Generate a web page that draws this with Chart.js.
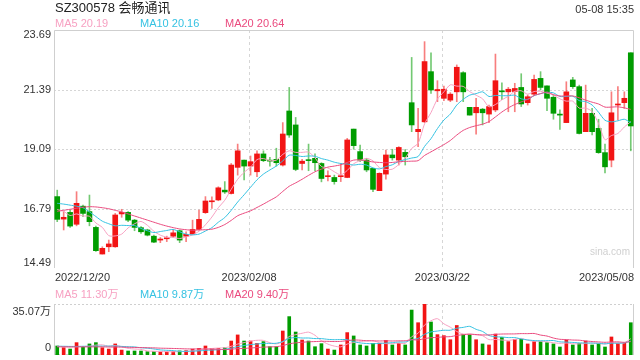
<!DOCTYPE html>
<html><head><meta charset="utf-8">
<script src="https://cdn.jsdelivr.net/npm/chart.js@4.4.0/dist/chart.umd.min.js"></script>
<style>
html,body{margin:0;padding:0;background:#fff;width:640px;height:360px;overflow:hidden;}
#wrap{position:relative;width:640px;height:360px;font-family:"Liberation Sans",Arial,"Noto Sans CJK SC",sans-serif;}
canvas{position:absolute;left:0;}
.t{position:absolute;white-space:nowrap;line-height:1;}
</style></head><body>
<div id="wrap">
<canvas id="main" width="640" height="285" style="top:0;width:640px;height:285px"></canvas>
<canvas id="vol" width="640" height="75" style="top:285px;width:640px;height:75px"></canvas>
<div class="t" style="left:55px;top:1px;font-size:13px;color:#222">SZ300578 会畅通讯</div>
<div class="t" style="right:6px;top:4px;font-size:11px;color:#333">05-08 15:35</div>
<div class="t" style="left:55px;top:18px;font-size:11px;color:#f7a1c2">MA5 20.19</div>
<div class="t" style="left:140px;top:18px;font-size:11px;color:#35c2e2">MA10 20.16</div>
<div class="t" style="left:225px;top:18px;font-size:11px;color:#ea4a7e">MA20 20.64</div>
<div class="t" style="left:55px;top:289px;font-size:11px;color:#f7a1c2">MA5 11.30万</div>
<div class="t" style="left:140px;top:289px;font-size:11px;color:#35c2e2">MA10 9.87万</div>
<div class="t" style="left:225px;top:289px;font-size:11px;color:#ea4a7e">MA20 9.40万</div>
<div class="t" style="right:10px;top:247px;font-size:10px;color:#d0d0d0">sina.com</div>
</div>
<script>
const dates = ['2022/12/20','2022/12/21','2022/12/22','2022/12/23','2022/12/26','2022/12/27','2022/12/28','2022/12/29','2022/12/30',
'2023/01/03','2023/01/04','2023/01/05','2023/01/06','2023/01/09','2023/01/10','2023/01/11','2023/01/12','2023/01/13','2023/01/16','2023/01/17','2023/01/18','2023/01/19','2023/01/20','2023/01/30','2023/01/31',
'2023/02/01','2023/02/02','2023/02/03','2023/02/06','2023/02/07','2023/02/08','2023/02/09','2023/02/10','2023/02/13','2023/02/14','2023/02/15','2023/02/16','2023/02/17','2023/02/20','2023/02/21','2023/02/22','2023/02/23','2023/02/24','2023/02/27','2023/02/28',
'2023/03/01','2023/03/02','2023/03/03','2023/03/06','2023/03/07','2023/03/08','2023/03/09','2023/03/10','2023/03/13','2023/03/14','2023/03/15','2023/03/16','2023/03/17','2023/03/20','2023/03/21','2023/03/22','2023/03/23','2023/03/24','2023/03/27','2023/03/28','2023/03/29','2023/03/30','2023/03/31',
'2023/04/03','2023/04/04','2023/04/06','2023/04/07','2023/04/10','2023/04/11','2023/04/12','2023/04/13','2023/04/14','2023/04/17','2023/04/18','2023/04/19','2023/04/20','2023/04/21','2023/04/24','2023/04/25','2023/04/26','2023/04/27','2023/04/28',
'2023/05/04','2023/05/05','2023/05/08'];

const opens = [17.25,16.38,16.64,16.18,16.88,16.67,16.06,15.03,15.31,15.31,
16.58,16.64,16.34,16.05,15.96,15.72,15.57,15.62,15.72,15.93,
15.72,15.80,15.98,16.63,17.05,17.12,17.50,17.37,18.38,18.66,
18.43,18.21,18.90,18.66,18.69,18.47,20.56,20.02,18.53,18.67,
18.73,18.53,18.02,17.99,18.02,17.99,19.86,18.99,18.66,18.34,
17.48,18.12,18.86,18.66,18.96,20.88,19.76,20.14,22.08,21.34,
21.05,20.98,21.30,22.04,20.70,20.49,20.63,20.44,20.60,21.33,
21.30,21.31,21.47,20.88,21.21,21.82,21.53,21.09,20.42,20.11,
21.76,21.50,19.76,20.47,19.89,18.95,18.66,20.79,20.88,22.81];
const highs = [17.50,16.67,16.73,17.44,16.92,17.31,16.11,15.31,15.57,16.60,
16.76,16.67,16.37,16.09,15.99,15.76,15.67,15.72,15.98,15.96,
15.89,16.34,16.73,17.25,17.24,17.63,17.83,18.53,19.28,18.66,
18.82,19.02,19.02,18.77,19.12,20.11,21.47,20.31,18.69,19.28,
18.90,18.56,18.25,18.08,18.53,19.50,19.86,19.24,18.73,18.34,
18.17,19.05,19.08,19.18,19.07,22.63,20.66,23.24,22.81,21.73,
21.52,21.27,22.34,22.08,20.70,21.05,20.66,20.79,22.76,21.65,
21.47,21.63,22.00,21.18,21.95,22.08,21.53,21.18,20.60,21.69,
21.86,21.56,21.56,20.66,20.24,19.28,21.30,21.50,21.30,22.81];
const lows = [16.28,15.96,16.06,16.12,16.47,16.12,15.13,15.03,15.12,15.29,
16.45,16.28,15.93,15.83,15.73,15.47,15.47,15.51,15.67,15.47,
15.51,15.79,15.96,16.60,16.79,17.09,17.37,17.35,18.08,17.89,
18.08,18.02,18.60,18.43,18.43,18.43,19.54,18.25,18.28,18.25,
18.25,17.82,17.86,17.73,17.83,17.98,19.08,18.60,18.21,17.44,
17.48,17.92,18.66,18.47,18.47,19.76,19.18,20.11,21.24,20.92,
20.96,20.92,20.92,20.92,20.40,19.66,20.02,20.11,20.53,21.00,
20.53,20.53,20.73,20.79,21.18,21.37,20.57,20.24,19.85,20.11,
21.43,19.67,19.76,19.63,18.92,18.17,18.40,20.21,20.66,19.02];
const closes = [16.37,16.45,16.11,16.99,16.60,16.28,15.16,15.25,15.42,16.54,
16.64,16.34,16.06,15.89,15.76,15.49,15.61,15.65,15.85,15.57,
15.79,15.98,16.37,17.08,17.08,17.59,17.43,18.47,19.02,18.43,
18.60,18.90,18.64,18.62,18.56,19.67,19.63,18.30,18.62,18.64,
18.56,17.95,18.05,17.83,18.05,19.44,19.22,18.66,18.28,17.53,
18.15,18.86,18.75,19.15,18.79,20.02,19.85,22.47,21.37,21.39,
21.40,21.21,22.25,21.30,20.40,20.70,20.49,20.73,21.73,21.30,
21.40,21.43,20.83,21.11,21.78,21.47,21.05,20.47,20.40,21.30,
21.50,19.69,20.47,19.76,18.95,18.40,20.49,20.83,21.05,19.98];

const ma5 = [16.75,16.68,16.52,16.58,16.50,16.49,16.23,16.06,15.74,15.73,
15.80,16.04,16.20,16.29,16.14,15.91,15.76,15.68,15.67,15.63,
15.69,15.77,15.91,16.16,16.46,16.82,17.11,17.53,17.92,18.19,
18.39,18.68,18.72,18.64,18.66,18.88,19.02,18.96,18.96,18.97,
18.75,18.41,18.36,18.21,18.09,18.26,18.52,18.64,18.73,18.63,
18.37,18.30,18.31,18.49,18.74,19.11,19.31,20.06,20.50,21.02,
21.30,21.57,21.52,21.51,21.31,21.17,21.03,20.72,20.81,20.99,
21.13,21.32,21.34,21.21,21.31,21.32,21.25,21.18,21.03,20.94,
20.94,20.67,20.67,20.54,20.07,19.45,19.61,19.69,19.94,20.15];
const ma10 = [16.99,16.96,16.92,16.88,16.82,16.66,16.48,16.30,16.20,16.12,
16.14,16.13,16.13,16.02,15.93,15.86,15.90,15.94,15.98,15.89,
15.80,15.77,15.80,15.92,16.05,16.26,16.44,16.72,17.04,17.32,
17.61,17.90,18.12,18.28,18.43,18.63,18.85,18.84,18.80,18.82,
18.81,18.72,18.66,18.58,18.53,18.51,18.47,18.50,18.47,18.36,
18.32,18.41,18.48,18.61,18.68,18.74,18.80,19.19,19.49,19.88,
20.21,20.44,20.79,21.01,21.17,21.23,21.30,21.12,21.16,21.15,
21.15,21.17,21.03,21.01,21.15,21.23,21.28,21.26,21.12,21.12,
21.13,20.96,20.92,20.79,20.51,20.20,20.14,20.18,20.24,20.11];
const ma20 = [16.68,16.72,16.76,16.80,16.84,16.86,16.85,16.82,16.78,16.72,
16.66,16.58,16.50,16.42,16.34,16.26,16.18,16.11,16.05,16.00,
15.97,15.95,15.96,15.97,15.99,16.06,16.17,16.33,16.51,16.61,
16.70,16.83,16.96,17.10,17.24,17.45,17.65,17.78,17.92,18.07,
18.21,18.31,18.39,18.43,18.48,18.57,18.66,18.67,18.63,18.59,
18.57,18.56,18.57,18.60,18.61,18.62,18.64,18.84,18.98,19.12,
19.26,19.42,19.63,19.81,19.92,19.99,20.05,20.15,20.33,20.52,
20.68,20.81,20.91,21.01,21.16,21.23,21.29,21.19,21.14,21.14,
21.14,21.07,20.98,20.90,20.83,20.71,20.71,20.72,20.68,20.62];

const volumes = [6.2,5.0,4.1,8.5,5.3,7.6,8.5,5.0,4.1,7.6,
3.4,2.75,2.75,2.75,2.3,2.3,2.1,2.1,2.3,2.8,
3.0,4.0,4.6,6.2,4.6,4.6,5.0,9.6,13.8,9.6,
9.6,8.0,9.2,5.7,5.7,16.5,26.4,15.8,10.3,9.6,
5.7,7.8,4.1,3.4,6.9,15.4,13.1,6.9,6.2,8.0,
8.0,10.1,6.9,8.0,6.9,30.9,22.2,35.07,22.7,14.0,
13.3,10.5,20.3,14.0,14.0,10.5,7.6,6.9,14.4,12.1,
9.2,10.8,10.8,7.6,9.2,9.2,8.5,7.6,5.5,10.3,
6.9,8.0,9.6,6.9,8.0,5.5,12.4,8.0,8.0,22.2];
const vma5 = [6.0,5.8,5.5,5.7,5.82,6.10,6.80,6.98,6.10,6.56,
5.72,4.57,4.12,3.85,2.79,2.57,2.44,2.31,2.22,2.32,
2.46,2.84,3.34,4.12,4.48,4.80,5.00,6.00,7.52,8.52,
9.52,10.12,10.04,8.42,7.64,9.02,12.70,14.02,14.94,15.72,
13.56,9.84,7.50,6.12,5.58,7.52,8.58,9.14,9.70,9.92,
8.44,7.84,7.84,8.20,7.98,12.56,14.98,20.61,23.55,24.97,
21.45,19.11,16.16,14.42,14.42,13.86,13.28,10.60,10.68,10.30,
10.04,10.68,11.46,10.10,9.52,9.52,9.06,8.42,8.00,8.22,
7.76,7.66,8.06,8.34,7.88,7.60,8.48,8.16,8.38,11.22];
const vma10 = [6.0,6.0,5.9,5.9,6.0,6.0,6.1,6.1,6.1,6.19,
5.91,5.69,5.55,4.98,4.68,4.15,3.51,3.22,3.04,2.56,
2.52,2.64,2.83,3.17,3.40,3.63,3.92,4.67,5.82,6.50,
7.16,7.56,8.02,7.97,8.08,9.27,11.41,12.03,11.68,11.68,
11.29,11.27,10.76,10.53,10.65,10.54,9.21,8.32,7.91,7.75,
7.98,8.21,8.49,8.95,8.95,10.50,11.41,14.23,15.88,16.48,
17.01,17.05,18.39,18.99,19.70,17.66,16.20,13.38,12.55,12.36,
11.95,11.98,11.03,10.39,9.91,9.78,9.87,9.94,9.05,8.87,
8.64,8.36,8.24,8.17,8.05,7.68,8.07,8.11,8.36,9.55];
const vma20 = [5.6,5.6,5.6,5.6,5.6,5.6,5.6,5.6,5.5,5.5,
5.4,5.3,5.2,5.1,5.0,4.9,4.7,4.6,4.5,4.37,
4.21,4.16,4.19,4.07,4.04,3.89,3.71,3.94,4.43,4.53,
4.84,5.10,5.42,5.57,5.74,6.45,7.67,8.35,8.75,9.09,
9.23,9.42,9.39,9.25,9.37,9.91,10.31,10.18,9.80,9.72,
9.64,9.74,9.63,9.74,9.80,10.52,10.31,11.27,11.89,12.11,
12.49,12.63,13.44,13.97,14.32,14.08,13.80,13.80,14.21,14.42,
14.48,14.51,14.71,14.69,14.80,13.72,13.03,11.66,10.80,10.62,
10.30,10.17,9.64,9.28,8.98,8.73,8.97,9.03,8.71,9.21];

const priceTicks = [23.69, 21.39, 19.09, 16.79, 14.49];
const priceTickLabels = ['23.69','21.39','19.09','16.79','14.49'];
const volTicks = [35.07, 0];
const volTickLabels = ['35.07万','0'];
const dateTicks = ['2022/12/20','2023/02/08','2023/03/22','2023/05/08'];

const UP = '#f21414', DOWN = '#009c00';
const UPW = 'rgba(242,20,20,0.55)', DOWNW = 'rgba(0,156,0,0.55)';
const C5 = '#f7a1c2', C10 = '#35c2e2', C20 = '#ea4a7e';
const FONT = '11px "Liberation Sans", Arial, "Noto Sans CJK SC", sans-serif';

const isUp = opens.map((o,i)=>closes[i]>=o);

function lineDs(data,color){
  return {type:'line',data,borderColor:color,borderWidth:1,pointRadius:0,fill:false,tension:0.25,order:0};
}

function framePlugin(kind){
  return {
    id:'frame_'+kind,
    beforeDatasetsDraw(chart){
      const {ctx, chartArea:a, scales:{x,y}} = chart;
      ctx.save();
      ctx.lineWidth = 1;
      ctx.strokeStyle = '#d6d6d6';
      ctx.setLineDash([3,3]);
      dateTicks.slice(1,3).forEach(d=>{
        const px = Math.round(x.getPixelForValue(dates.indexOf(d)))-1.5;
        ctx.beginPath(); ctx.moveTo(px,a.top); ctx.lineTo(px,a.bottom); ctx.stroke();
      });
      ctx.setLineDash([2,2]);
      if(kind==='main'){
        priceTicks.slice(1,4).forEach(v=>{
          const py = Math.round(y.getPixelForValue(v))+0.5;
          ctx.beginPath(); ctx.moveTo(a.left,py); ctx.lineTo(a.right,py); ctx.stroke();
        });
        ctx.setLineDash([]);
        ctx.strokeStyle = '#cfcfcf';
        ctx.beginPath();
        ctx.moveTo(a.left+0.5,a.bottom); ctx.lineTo(a.left+0.5,a.top+0.5);
        ctx.lineTo(a.right-0.5,a.top+0.5); ctx.lineTo(a.right-0.5,a.bottom);
        ctx.stroke();
      } else {
        ctx.strokeStyle = '#cfcfcf';
        [a.top+0.5, a.bottom-0.5].forEach(py=>{
          ctx.beginPath(); ctx.moveTo(a.left,py); ctx.lineTo(a.right,py); ctx.stroke();
        });
        ctx.setLineDash([]);
        ctx.beginPath();
        ctx.moveTo(a.left+0.5,a.top); ctx.lineTo(a.left+0.5,a.bottom);
        ctx.moveTo(a.right-0.5,a.top); ctx.lineTo(a.right-0.5,a.bottom);
        ctx.stroke();
      }
      ctx.restore();
    },
    afterDraw(chart){
      const {ctx, chartArea:a, scales:{x,y}} = chart;
      ctx.save();
      ctx.font = FONT;
      ctx.fillStyle = '#333';
      ctx.textBaseline = 'middle';
      ctx.textAlign = 'right';
      if(kind==='main'){
        priceTicks.forEach((v,i)=>{
          let py = y.getPixelForValue(v);
          if(i===0) py += 5; else if(i===priceTicks.length-1) py -= 5;
          ctx.fillText(priceTickLabels[i], 51, py);
        });
        dateTicks.forEach((d,i)=>{
          const idx = dates.indexOf(d);
          let px = x.getPixelForValue(idx);
          if(i===0){ctx.textAlign='left'; px=a.left+1;}
          else if(i===dateTicks.length-1){ctx.textAlign='right'; px=a.right;}
          else {ctx.textAlign='center'; px-=1.5;}
          ctx.fillText(d, px, a.bottom+10);
        });
      } else {
        volTicks.forEach((v,i)=>{
          let py = y.getPixelForValue(v);
          if(i===0) py += 8; else py -= 7;
          ctx.fillText(volTickLabels[i], 51, py);
        });
      }
      ctx.restore();
    }
  };
}

const commonOpts = (pad, ymin, ymax) => ({
  responsive:false, animation:false, devicePixelRatio:1,
  layout:{padding:pad},
  plugins:{legend:{display:false}, tooltip:{enabled:false}},
  scales:{
    x:{type:'category', offset:true, display:false},
    y:{min:ymin, max:ymax, display:false}
  }
});

new Chart(document.getElementById('main'), {
  type:'bar',
  data:{
    labels:dates,
    datasets:[
      {data:lows.map((l,i)=>[l,highs[i]]), backgroundColor:isUp.map(u=>u?UPW:DOWNW), barThickness:1, grouped:false, order:2, borderWidth:0},
      {data:opens.map((o,i)=>[o,closes[i]]), backgroundColor:isUp.map(u=>u?UP:DOWN), barThickness:5, minBarLength:1, grouped:false, order:1, borderWidth:0},
      lineDs(ma20,C20), lineDs(ma10,C10), lineDs(ma5,C5)
    ]
  },
  options:commonOpts({left:54,right:6,top:30,bottom:17}, 14.49, 23.69),
  plugins:[framePlugin('main')]
});

new Chart(document.getElementById('vol'), {
  type:'bar',
  data:{
    labels:dates,
    datasets:[
      {data:volumes, backgroundColor:isUp.map(u=>u?UP:DOWN), barThickness:3, grouped:false, order:1, borderWidth:0},
      lineDs(vma20,C20), lineDs(vma10,C10), lineDs(vma5,C5)
    ]
  },
  options:commonOpts({left:54,right:6,top:19,bottom:5}, 0, 35.07),
  plugins:[framePlugin('vol')]
});
</script>
</body></html>
